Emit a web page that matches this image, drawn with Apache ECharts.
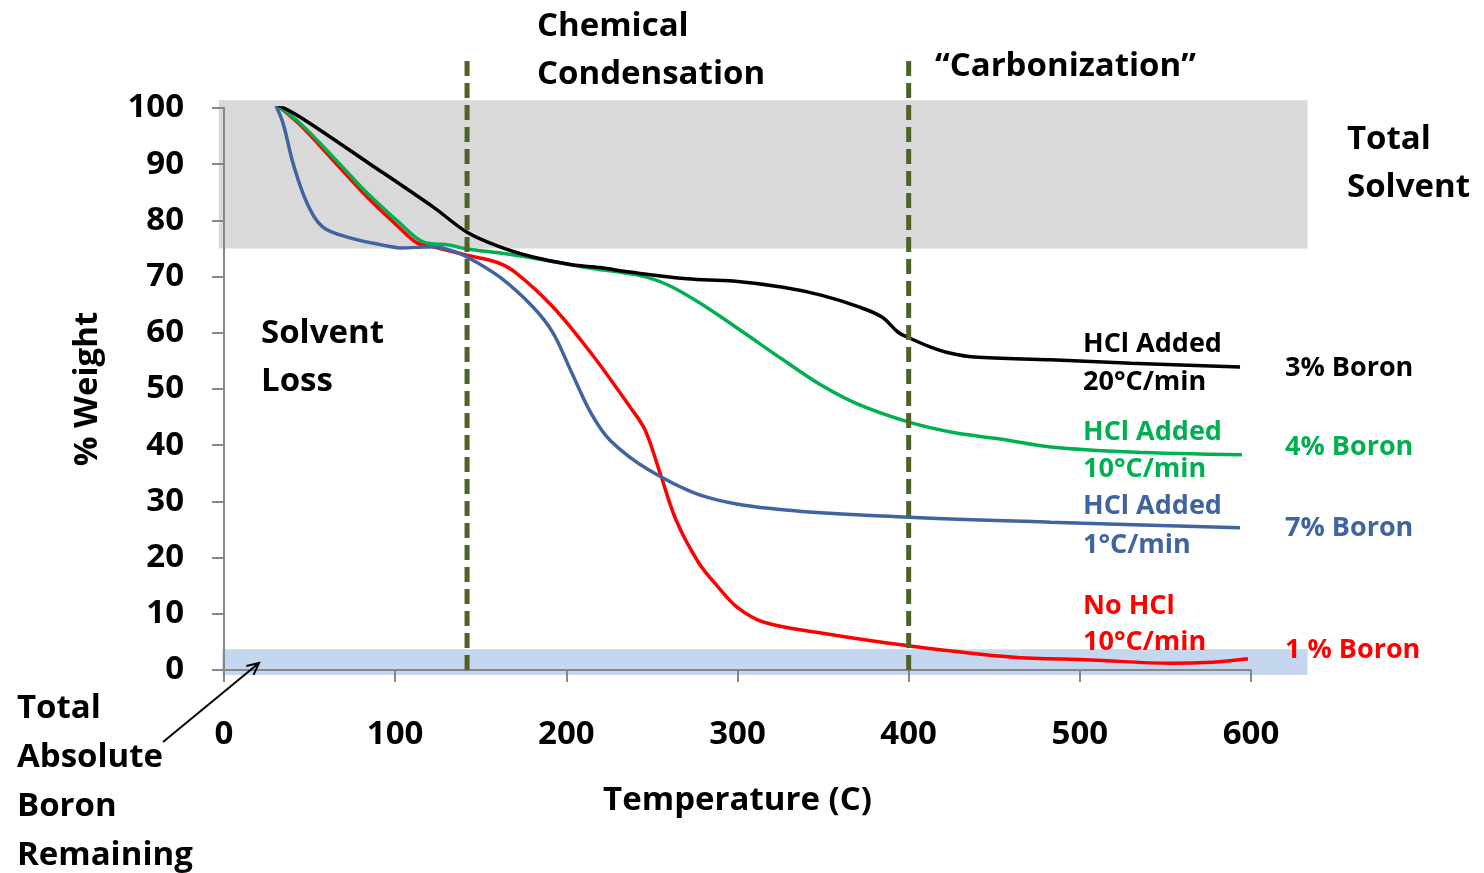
<!DOCTYPE html>
<html lang="en">
<head>
    <meta charset="UTF-8">
    <title>TGA - % Weight vs Temperature</title>
    <script src="https://cdn.jsdelivr.net/npm/echarts/dist/echarts.min.js"></script>
    <style>
        body { margin: 0; background: #fff; }
        #chart { width: 1484px; height: 873px; }
    </style>
</head>
<body>
<div id="chart"></div>
<script>
    // curves: [temperature (C), % weight]
    // HCl added, 20 C/min (3% boron)
    const hcl20 = [[29.8, 100.8], [44.4, 98.4], [83.5, 90.4], [122.1, 82.4], [142, 77.9], [161.2, 75.3],
        [180.5, 73.5], [203.3, 72.1], [219.7, 71.6], [237.2, 70.8], [270.5, 69.6], [297.4, 69.2],
        [326.6, 68.1], [348.8, 66.7], [371, 64.6], [384.4, 62.8], [393.8, 60.1], [400.2, 59.1],
        [412.5, 57.5], [424, 56.4], [438.2, 55.7], [483.1, 55.2], [529.9, 54.6], [593.6, 53.9]];
    // HCl added, 10 C/min (4% boron)
    const hcl10 = [[29.8, 100.8], [44.4, 97.3], [63.7, 91.3], [83.5, 84.9], [102.8, 79.5], [116.3, 76.2],
        [132, 75.6], [142, 74.9], [161.2, 74.2], [180.5, 73.3], [214.4, 71.5], [241.3, 70.3],
        [259.4, 68.5], [281.6, 64.6], [303.8, 60], [326.6, 55.2], [348.8, 50.7], [371, 47.2],
        [400.2, 44.1], [427, 42.2], [453.4, 41.1], [483.1, 39.7], [529.9, 38.8], [594.7, 38.3]];
    // HCl added, 1 C/min (7% boron)
    const hcl1 = [[29.8, 100.8], [34.5, 97.3], [40.3, 90.2], [48.5, 83.1], [57.8, 78.8], [73.6, 76.9],
        [92.9, 75.6], [102.8, 75.1], [122.1, 75.3], [132, 74.7], [142, 73.5], [161.2, 69.9],
        [180.5, 64.6], [192.2, 60], [203.3, 52.8], [214.4, 45.7], [225.5, 40.9], [248.3, 35.6],
        [281.6, 30.8], [326.6, 28.5], [400.2, 27.2], [483.1, 26.3], [593.6, 25.3]];
    // no HCl, 10 C/min (1% boron)
    const noHcl10 = [[29.8, 100.8], [44.4, 97], [63.7, 90.7], [83.5, 84.2], [102.8, 78.6], [112.8, 76],
        [122.1, 75.3], [142, 73.8], [158.9, 72.6], [170, 70.8], [192.2, 64.6], [214.4, 56.4],
        [237.2, 46.8], [246, 42.7], [254.7, 35.1], [264.1, 26.7], [277.5, 19], [288.6, 14.8],
        [299.7, 11.2], [315.5, 8.5], [348.8, 6.6], [400.2, 4.3], [459.8, 2.3], [506.5, 1.8],
        [553.3, 1.2], [577.2, 1.4], [598.2, 2]];

    // phase boundaries (dashed lines) and shaded bands [x0, y0, x1, y1]
    const phaseBounds = [142, 400];
    const solventBand = [-3, 75, 633, 101.4];
    const boronBand = [-1, -0.9, 633, 3.7];

    const FONT = '"Open Sans", sans-serif';
    const BIG = 33, SMALL = 27;

    // multi-line text block, y = centre of first line
    function label(text, x, y, color, size, lh) {
        return {
            type: 'text', x: x, y: y - lh / 2, z: 10,
            style: {
                text: text, fill: color, fontFamily: FONT, fontWeight: 'bold',
                fontSize: size, lineHeight: lh, verticalAlign: 'top'
            }
        };
    }

    function bandSeries(box, color) {
        return {
            type: 'custom', z: 0, silent: true,
            data: [box],
            encode: { x: [0, 2], y: [1, 3] },
            renderItem: function (params, api) {
                const p0 = api.coord([api.value(0), api.value(3)]);
                const p1 = api.coord([api.value(2), api.value(1)]);
                return {
                    type: 'rect',
                    shape: { x: p0[0], y: p0[1], width: p1[0] - p0[0], height: p1[1] - p0[1] },
                    style: { fill: color }
                };
            }
        };
    }

    function curve(data, color) {
        return {
            type: 'line', data: data, smooth: 0.35, showSymbol: false, symbol: 'none', z: 3,
            lineStyle: { color: color, width: 3.5 }
        };
    }

    // arrow from "Total Absolute Boron Remaining" to the blue band
    const arrowFrom = [163, 742], arrowTo = [259, 663];
    const ang = Math.atan2(arrowFrom[1] - arrowTo[1], arrowFrom[0] - arrowTo[0]);
    const head = [ang + 0.45, ang - 0.45].map(a => [arrowTo[0] + 13 * Math.cos(a), arrowTo[1] + 13 * Math.sin(a)]);

    const chart = echarts.init(document.getElementById('chart'));
    const option = {
        animation: false,
        grid: { left: 224, top: 108, width: 1027, height: 562 },
        xAxis: {
            type: 'value', min: 0, max: 600, interval: 100, z: 1,
            name: 'Temperature (C)', nameLocation: 'middle', nameGap: 114,
            nameTextStyle: { fontFamily: FONT, fontWeight: 'bold', fontSize: BIG, color: '#000' },
            axisLine: { lineStyle: { color: '#878787', width: 2 } },
            axisTick: { show: true, length: 12, lineStyle: { color: '#878787', width: 2 } },
            axisLabel: { margin: 48, fontFamily: FONT, fontWeight: 'bold', fontSize: BIG, color: '#000' },
            splitLine: { show: false }
        },
        yAxis: {
            type: 'value', min: 0, max: 100, interval: 10, z: 1,
            name: '% Weight', nameLocation: 'middle', nameGap: 120, nameRotate: 90,
            nameTextStyle: { fontFamily: FONT, fontWeight: 'bold', fontSize: BIG, color: '#000' },
            axisLine: { show: true, lineStyle: { color: '#878787', width: 2 } },
            axisTick: { show: true, length: 12, lineStyle: { color: '#878787', width: 2 } },
            axisLabel: { margin: 40, fontFamily: FONT, fontWeight: 'bold', fontSize: BIG, color: '#000' },
            splitLine: { show: false }
        },
        series: [
            bandSeries(solventBand, '#D9D9D9'),
            bandSeries(boronBand, '#C5D7EE'),
            curve(noHcl10, '#FF0000'),
            curve(hcl1, '#3F64A0'),
            curve(hcl10, '#00B050'),
            curve(hcl20, '#000000'),
            {
                type: 'custom', z: 4, silent: true,
                data: phaseBounds.map(v => [v]),
                renderItem: function (params, api) {
                    const a = api.coord([api.value(0), 0]);
                    const b = api.coord([api.value(0), 108.5]);
                    return {
                        type: 'line',
                        shape: { x1: a[0], y1: a[1], x2: b[0], y2: b[1] },
                        style: { stroke: '#4F6228', lineWidth: 5, lineDash: [15, 7] }
                    };
                }
            }
        ],
        graphic: [
            label('Chemical\nCondensation', 537, 27, '#000', BIG, 48),
            label('\u201CCarbonization\u201D', 935, 67, '#000', BIG, 48),
            label('Total\nSolvent', 1347, 140, '#000', BIG, 48),
            label('Solvent\nLoss', 261, 334, '#000', BIG, 48),
            label('Total\nAbsolute\nBoron\nRemaining', 17, 709, '#000', BIG, 49),
            label('HCl Added\n20\u00B0C/min', 1083, 344, '#000', SMALL, 38),
            label('HCl Added\n10\u00B0C/min', 1083, 432, '#00B050', SMALL, 37),
            label('HCl Added\n1\u00B0C/min', 1083, 506, '#3F64A0', SMALL, 39),
            label('No HCl\n10\u00B0C/min', 1083, 606, '#FF0000', SMALL, 36),
            label('3% Boron', 1285, 368, '#000', SMALL, 38),
            label('4% Boron', 1285, 447, '#00B050', SMALL, 38),
            label('7% Boron', 1285, 528, '#3F64A0', SMALL, 38),
            label('1 % Boron', 1285, 650, '#FF0000', SMALL, 38),
            {
                type: 'polyline', z: 10,
                shape: { points: [arrowFrom, arrowTo] },
                style: { stroke: '#000', lineWidth: 2, fill: null }
            },
            {
                type: 'polyline', z: 10,
                shape: { points: [head[0], arrowTo, head[1]] },
                style: { stroke: '#000', lineWidth: 2, fill: null }
            }
        ]
    };
    chart.setOption(option);
</script>
</body>
</html>
